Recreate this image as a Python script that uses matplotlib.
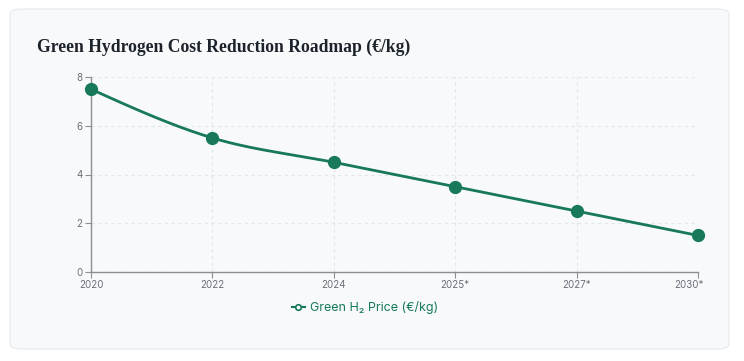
import numpy as np
import matplotlib
matplotlib.use("Agg")
import matplotlib.pyplot as plt
import matplotlib.transforms as mtransforms
from matplotlib.patches import FancyBboxPatch
from matplotlib.lines import Line2D

# data
years = ['2020', '2022', '2024', '2025*', '2027*', '2030*']
price = [7.5, 5.5, 4.5, 3.5, 2.5, 1.5]
yticks = [0, 2, 4, 6, 8]

GREEN = '#17785a'
GRID = '#e3e6ea'


def monotone_x(x, y, n=30):
    # d3 curveMonotoneX style smoothing
    x = np.asarray(x, float)
    y = np.asarray(y, float)
    h = np.diff(x)
    s = np.diff(y) / h
    t = np.zeros(len(x))
    for i in range(1, len(x) - 1):
        p = (s[i - 1] * h[i] + s[i] * h[i - 1]) / (h[i - 1] + h[i])
        t[i] = (np.sign(s[i - 1]) + np.sign(s[i])) * min(abs(s[i - 1]), abs(s[i]), 0.5 * abs(p))
    t[0] = (3 * s[0] - t[1]) / 2
    t[-1] = (3 * s[-1] - t[-2]) / 2
    xs, ys = [], []
    u = np.linspace(0, 1, n)
    for i in range(len(x) - 1):
        dx = h[i] / 3
        p0 = (x[i], y[i])
        p1 = (x[i] + dx, y[i] + dx * t[i])
        p2 = (x[i + 1] - dx, y[i + 1] - dx * t[i + 1])
        p3 = (x[i + 1], y[i + 1])
        bx = (1 - u) ** 3 * p0[0] + 3 * (1 - u) ** 2 * u * p1[0] + 3 * (1 - u) * u ** 2 * p2[0] + u ** 3 * p3[0]
        by = (1 - u) ** 3 * p0[1] + 3 * (1 - u) ** 2 * u * p1[1] + 3 * (1 - u) * u ** 2 * p2[1] + u ** 3 * p3[1]
        xs.extend(bx)
        ys.extend(by)
    return np.array(xs), np.array(ys)


plt.rcParams['font.family'] = ['Inter', 'DejaVu Sans']

fig = plt.figure(figsize=(7.44, 3.61), dpi=100)
fig.patch.set_facecolor('white')

W, H = 744, 361
card = FancyBboxPatch((10 / W, 12 / H), 719 / W, 340 / H,
                      boxstyle='round,pad=0,rounding_size=0.015',
                      transform=fig.transFigure, facecolor='#f7f9fb',
                      edgecolor='#e6e9ed', linewidth=0.8, zorder=-5)
fig.patches.append(card)

fig.text(37 / W, 1 - 47 / H, 'Green Hydrogen Cost Reduction Roadmap (€/kg)',
         family=['Liberation Serif', 'DejaVu Serif'], fontweight='bold',
         fontsize=12.7, color='#1d232b', va='center', ha='left')

ax = fig.add_axes([91 / W, 1 - 272 / H, (698 - 91) / W, (272 - 77) / H])
ax.set_facecolor('none')
ax.set_zorder(2)

xi = np.arange(len(years))
sx, sy = monotone_x(xi, price)
ax.plot(sx, sy, color=GREEN, lw=2.0, zorder=3, clip_on=False)
ax.plot(xi, price, 'o', color=GREEN, ms=8.5, zorder=4, clip_on=False)

ax.set_xlim(0, len(years) - 1)
ax.set_ylim(0, 8)
ax.set_xticks(xi)
ax.set_xticklabels(years)
ax.set_yticks(yticks)

ax.grid(True, color=GRID, linestyle=(0, (3, 3)), linewidth=0.8)
ax.set_axisbelow(True)
for sp in ['top', 'right']:
    ax.spines[sp].set_visible(False)
for sp in ['left', 'bottom']:
    ax.spines[sp].set_color('#8a8f96')
    ax.spines[sp].set_linewidth(1.0)
ax.tick_params(colors='#8a8f96', labelcolor='#6b7078', labelsize=7, length=4, width=0.8, pad=2)

# last label pulled inside like the original
last = ax.get_xticklabels()[-1]
last.set_transform(last.get_transform() + mtransforms.ScaledTranslation(-9 / 100, 0, fig.dpi_scale_trans))

handle = Line2D([], [], color=GREEN, lw=1.5, marker='o', ms=4,
                markerfacecolor='white', markeredgecolor=GREEN, markeredgewidth=1.2)
leg = fig.legend([handle], ['Green H₂ Price (€/kg)'], loc='center',
                 bbox_to_anchor=(365 / W, 1 - 308 / H), frameon=False,
                 fontsize=9, handlelength=1.0, handletextpad=0.4)
for txt in leg.get_texts():
    txt.set_color(GREEN)

fig.savefig('out.png', dpi=100, facecolor='white')
